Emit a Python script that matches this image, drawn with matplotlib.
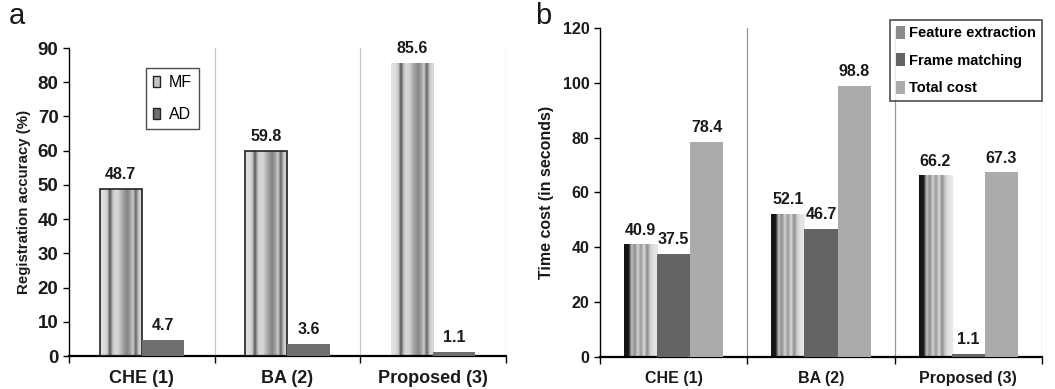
import numpy as np
import matplotlib.pyplot as plt
from matplotlib.patches import Patch

plt.rcParams['font.family'] = ['Liberation Sans', 'DejaVu Sans']
plt.rcParams['font.weight'] = 'bold'

# data
methods = ['CHE (1)', 'BA (2)', 'Proposed (3)']
mf_acc = [48.7, 59.8, 85.6]
ad_acc = [4.7, 3.6, 1.1]
feat_time = [40.9, 52.1, 66.2]
match_time = [37.5, 46.7, 1.1]
total_time = [78.4, 98.8, 67.3]

# grey levels across the width of the "cylinder" striped bars
mf_stripes = [0.88, 0.86, 0.80, 0.35, 0.78, 0.85, 0.82, 0.70, 0.60, 0.52, 0.62, 0.80, 0.40, 0.78, 0.85]
fe_stripes = [0.08, 0.10, 0.75, 0.55, 0.82, 0.60, 0.85, 0.55, 0.80, 0.88, 0.90]

txt = '#1a1a1a'


def striped_bars(ax, xs, heights, width, profile, edges):
    bars = ax.bar(xs, heights, width, color='none', edgecolor=edges, linewidth=1.2, zorder=3)
    img = np.array([profile])
    for b in bars:
        x0, w, h = b.get_x(), b.get_width(), b.get_height()
        ax.imshow(img, cmap='gray', vmin=0, vmax=1, extent=(x0, x0 + w, 0, h),
                  aspect='auto', interpolation='bilinear', zorder=2)
    return bars


def label_bars(ax, xs, heights, size):
    for x, h in zip(xs, heights):
        ax.annotate(f'{h}', (x, h), xytext=(0, 5), textcoords='offset points',
                    ha='center', va='bottom', fontsize=size, fontweight='bold', color=txt)


def style_axis(ax, ymax, ystep, grid_color, ytick_size, xtick_size):
    ax.set_xlim(-0.5, 2.5)
    ax.set_ylim(0, ymax)
    ax.set_yticks(np.arange(0, ymax + 1, ystep))
    ax.set_xticks([-0.5, 0.5, 1.5, 2.5])
    ax.set_xticklabels([])
    ax.set_xticks([0, 1, 2], minor=True)
    ax.set_xticklabels(methods, minor=True)
    ax.tick_params(axis='x', which='major', direction='out', length=5, width=1)
    ax.tick_params(axis='x', which='minor', length=0, pad=10, labelsize=xtick_size, labelcolor=txt)
    ax.tick_params(axis='y', direction='out', length=4, width=1, labelsize=ytick_size, labelcolor=txt)
    for s in ['top', 'right']:
        ax.spines[s].set_visible(False)
    ax.spines['bottom'].set_linewidth(1.6)
    ax.spines['left'].set_linewidth(1.0)
    for xv in [0.5, 1.5, 2.5]:
        ax.axvline(xv, color=grid_color, lw=0.9, zorder=1)


fig = plt.figure(figsize=(10.55, 3.89), dpi=100)

# ---- panel a
ax1 = fig.add_axes([0.0654, 0.0848, 0.4142, 0.7918])
x = np.arange(len(methods))
w1 = 0.29
striped_bars(ax1, x - w1 / 2, mf_acc, w1, mf_stripes, ['#222222', '#222222', 'none'])
ax1.bar(x + w1 / 2, ad_acc, w1, color='#6e6e6e', zorder=3)
label_bars(ax1, x - w1 / 2, mf_acc, 11.5)
label_bars(ax1, x + w1 / 2, ad_acc, 11.5)
style_axis(ax1, 90, 10, '#c8c8c8', 13.5, 13)
ax1.set_ylabel('Registration accuracy (%)', fontsize=10.8, fontweight='bold', color=txt, labelpad=5)
handles1 = [Patch(facecolor='#c4c4c4', edgecolor='#222222', label='MF'),
            Patch(facecolor='#6e6e6e', edgecolor='#222222', label='AD')]
leg1 = ax1.legend(handles=handles1, loc='upper left', bbox_to_anchor=(0.176, 0.935), borderaxespad=0,
                  frameon=True, fancybox=False, edgecolor='#222222',
                  prop={'weight': 'normal', 'size': 11.5},
                  handlelength=0.45, handleheight=0.75, handletextpad=0.55, labelspacing=1.05,
                  borderpad=0.45)
leg1.get_frame().set_linewidth(1.0)

# ---- panel b
ax2 = fig.add_axes([0.5687, 0.0823, 0.419, 0.8458])
w2 = 0.225
striped_bars(ax2, x - w2, feat_time, w2, fe_stripes, 'none')
ax2.bar(x, match_time, w2, color='#646464', zorder=3)
ax2.bar(x + w2, total_time, w2, color='#ababab', zorder=3)
label_bars(ax2, x - w2, feat_time, 11.5)
label_bars(ax2, x, match_time, 11.5)
label_bars(ax2, x + w2, total_time, 11.5)
style_axis(ax2, 120, 20, '#9a9a9a', 11.5, 11.5)
ax2.set_ylabel('Time cost (in seconds)', fontsize=11.5, fontweight='bold', color=txt, labelpad=6)
handles2 = [Patch(facecolor='#8c8c8c', edgecolor='none', label='Feature extraction'),
            Patch(facecolor='#646464', edgecolor='none', label='Frame matching'),
            Patch(facecolor='#ababab', edgecolor='none', label='Total cost')]
leg2 = ax2.legend(handles=handles2, loc='upper right', bbox_to_anchor=(1.0, 1.025), borderaxespad=0,
                  frameon=True, fancybox=False, edgecolor='#222222',
                  prop={'weight': 'bold', 'size': 10.5},
                  handlelength=0.6, handleheight=1.0, handletextpad=0.3, labelspacing=0.9,
                  borderpad=0.4)
leg2.get_frame().set_linewidth(1.2)

fig.text(0.008, 0.995, 'a', fontsize=21, fontweight='normal', va='top', ha='left', color=txt)
fig.text(0.507, 0.995, 'b', fontsize=21, fontweight='normal', va='top', ha='left', color=txt)

fig.savefig('out.png', dpi=100)
